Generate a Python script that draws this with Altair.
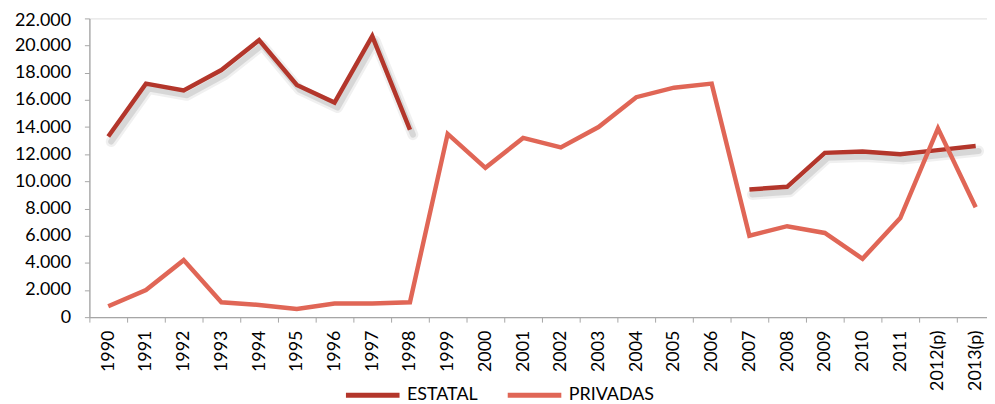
import json
import altair as alt
import pandas as pd

years = ["1990", "1991", "1992", "1993", "1994", "1995", "1996", "1997", "1998",
         "1999", "2000", "2001", "2002", "2003", "2004", "2005", "2006", "2007",
         "2008", "2009", "2010", "2011", "2012(p)", "2013(p)"]
estatal = [13300, 17200, 16700, 18200, 20400, 17100, 15800, 20700, 13800,
           None, None, None, None, None, None, None, None,
           9400, 9600, 12100, 12200, 12000, 12300, 12600]
privadas = [800, 2000, 4200, 1100, 900, 600, 1000, 1000, 1100,
            13500, 11000, 13200, 12500, 14000, 16200, 16900, 17200,
            6000, 6700, 6200, 4300, 7300, 13900, 8100]
series = ["ESTATAL", "PRIVADAS"]
colors = ["#B3362B", "#E06656"]
y_ticks = list(range(0, 22001, 2000))

rows = []
for name, vals in zip(series, [estatal, privadas]):
    seg = 0
    prev_none = False
    for i, (yr, v) in enumerate(zip(years, vals)):
        if v is None:
            prev_none = True
            continue
        if prev_none:
            seg += 1
            prev_none = False
        rows.append({"year": yr, "pos": i + 0.5, "value": v,
                     "serie": name, "seg": f"{name}-{seg}"})
df = pd.DataFrame(rows)

n = len(years)
dom_max = n - 0.2
band = 38.0
W = dom_max * band
H = 301

label_arr = json.dumps(years)
x_axis = alt.Axis(
    values=[i * 0.5 for i in range(2 * n)],
    labelExpr=f"datum.value % 1 == 0 ? '' : {label_arr}[floor(datum.value)]",
    tickOpacity={"condition": {"test": "datum.value % 1 != 0", "value": 0}, "value": 1},
    labelAngle=270, labelOverlap=False, labelFlush=False,
    labelFont="Lato", labelFontSize=18, labelColor="#000000", labelPadding=8,
    tickSize=5, tickColor="#A6A6A6", domainColor="#A6A6A6", domainWidth=1.3,
    grid=False, title=None,
)
y_axis = alt.Axis(
    values=y_ticks,
    labelExpr="replace(format(datum.value, ','), ',', '.')",
    labelOffset={"condition": {"test": f"datum.value == {max(y_ticks)}", "value": 2}, "value": 0},
    labelFont="Lato", labelFontSize=18, labelColor="#000000", labelPadding=14,
    tickSize=5, tickColor="#A6A6A6", domainColor="#A6A6A6", domainWidth=1.3,
    grid=False, title=None,
)

x_enc = alt.X("pos:Q", scale=alt.Scale(domain=[0, dom_max], nice=False, zero=False), axis=x_axis)
y_enc = alt.Y("value:Q", scale=alt.Scale(domain=[0, 22000], nice=False), axis=y_axis)

base = alt.Chart(df)
est = df[df.serie == "ESTATAL"]
shadow1 = alt.Chart(est).mark_line(color="#000000", opacity=0.06, strokeWidth=11,
                                   xOffset=3, yOffset=5, strokeJoin="round", strokeCap="round").encode(
    x=x_enc, y=y_enc, detail="seg:N")
shadow2 = alt.Chart(est).mark_line(color="#000000", opacity=0.10, strokeWidth=6,
                                   xOffset=3, yOffset=5, strokeJoin="round", strokeCap="round").encode(
    x=x_enc, y=y_enc, detail="seg:N")

lines = base.mark_line(strokeWidth=4.5, strokeJoin="miter").encode(
    x=x_enc, y=y_enc, detail="seg:N",
    color=alt.Color("serie:N", scale=alt.Scale(domain=series, range=colors),
                    legend=alt.Legend(title=None, orient="none", direction="horizontal",
                                      legendX=256, legendY=350,
                                      symbolType="stroke", symbolSize=2916,
                                      symbolStrokeWidth=5, labelOffset=5,
                                      columnPadding=19,
                                      labelFont="Lato", labelFontSize=18,
                                      labelColor="#000000")),
)

chart = alt.layer(shadow1, shadow2, lines).properties(
    width=W, height=H,
    autosize=alt.AutoSizeParams(type="none"),
    padding={"left": 82, "top": 9, "right": 0, "bottom": 86},
).configure_view(stroke=None).configure(background="white")

chart.save("out.html", embed_options={"renderer": "svg", "actions": False})
